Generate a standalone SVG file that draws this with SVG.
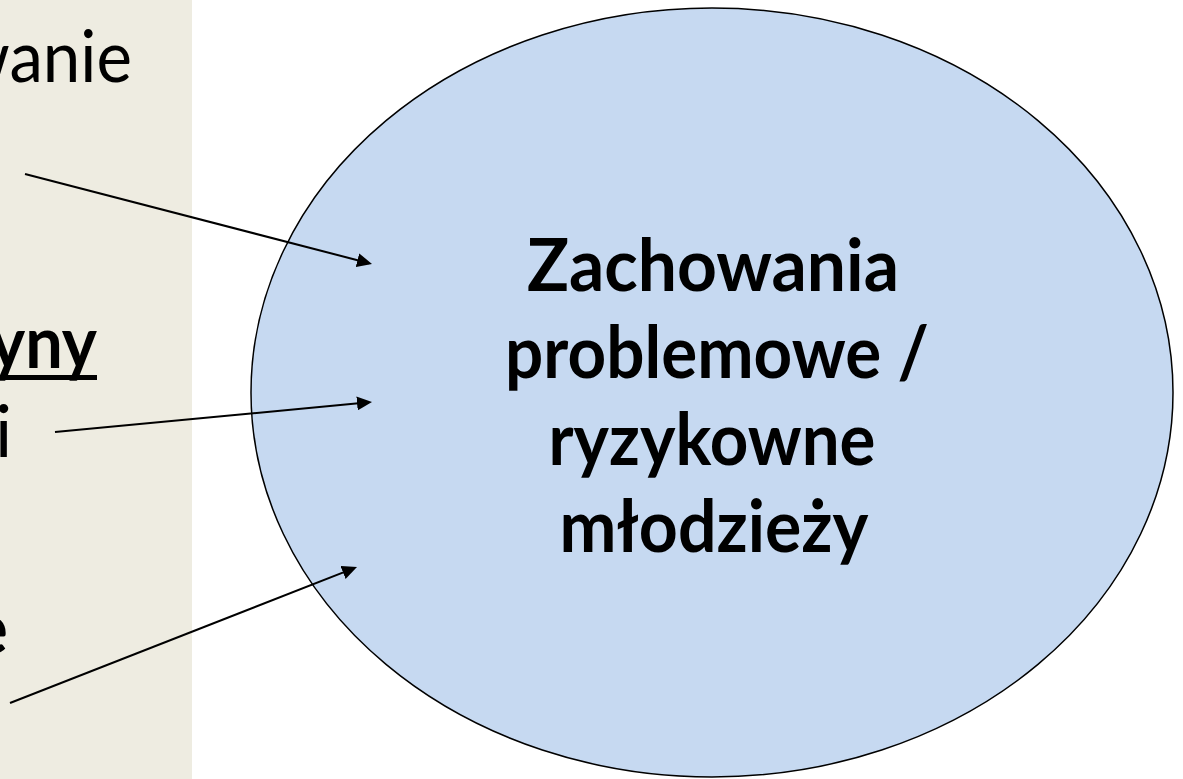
<svg xmlns="http://www.w3.org/2000/svg" width="1183" height="779" viewBox="0 0 1183 779">
  <style>
    .side { font-family: Lato, "Liberation Sans", sans-serif; font-size: 72px; fill: #000; }
    .b { font-weight: bold; }
    .center { font-family: Lato, "Liberation Sans", sans-serif; font-size: 72px; font-weight: bold; fill: #000; text-anchor: middle; }
    .conn { stroke: #000; stroke-width: 2; fill: none; marker-end: url(#arrow); }
  </style>
  <defs>
    <marker id="arrow" markerUnits="userSpaceOnUse" markerWidth="16" markerHeight="14" refX="12" refY="7" orient="auto">
      <path d="M0,0 L15,7 L0,14 Z" fill="#000"/>
    </marker>
  </defs>

  <g id="panel">
    <rect x="0" y="0" width="192" height="779" fill="#EEECE1"/>
    <text class="side" x="-43" y="82" textLength="175" lengthAdjust="spacingAndGlyphs">wanie</text>
    <text class="side b" x="-10" y="368" textLength="107" lengthAdjust="spacingAndGlyphs">yny</text>
    <rect x="0" y="375" width="97" height="5" fill="#000"/>
    <text class="side" x="-5" y="457">i</text>
    <text class="side b" x="8" y="654" text-anchor="end">e</text>
  </g>

  <g id="ellipse-node">
    <ellipse cx="712" cy="392.5" rx="461" ry="384.5" fill="#C6D9F1" stroke="#000" stroke-width="1.5"/>
    <text class="center" x="713" y="291" textLength="372" lengthAdjust="spacingAndGlyphs">Zachowania</text>
    <text class="center" x="717" y="378" textLength="424" lengthAdjust="spacingAndGlyphs">problemowe /</text>
    <text class="center" x="712" y="465" textLength="327" lengthAdjust="spacingAndGlyphs">ryzykowne</text>
    <text class="center" x="714" y="552" textLength="309" lengthAdjust="spacingAndGlyphs">młodzieży</text>
  </g>

  <g id="connectors">
    <line class="conn" x1="25" y1="174" x2="369.1" y2="263.2"/>
    <line class="conn" x1="55" y1="432" x2="369.0" y2="402.3"/>
    <line class="conn" x1="10" y1="703" x2="354.2" y2="568.1"/>
  </g>
</svg>
